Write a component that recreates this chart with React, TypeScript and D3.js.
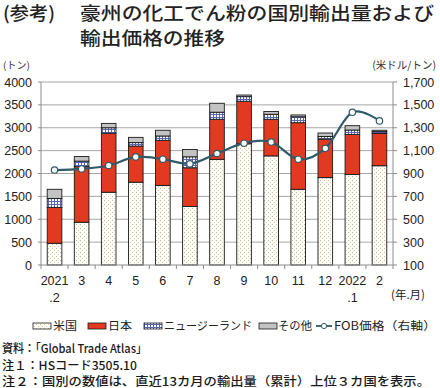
import React from "react";
import * as d3 from "d3";

const catTop = ["2021", "3", "4", "5", "6", "7", "8", "9", "10", "11", "12", "2022", "2"];
const catBottom = [".2", "", "", "", "", "", "", "", "", "", "", ".1", ""];
const usValues = [475, 935, 1590, 1810, 1740, 1280, 2310, 2650, 2385, 1655, 1910, 1980, 2170];
const japanValues = [785, 1215, 1290, 790, 985, 845, 875, 930, 800, 1455, 840, 875, 705];
const nzValues = [195, 120, 120, 75, 95, 240, 155, 100, 110, 130, 60, 95, 40];
const otherValues = [200, 100, 95, 115, 125, 160, 195, 35, 60, 40, 75, 95, 30];
const fobPrice = [930, 940, 970, 1045, 1025, 985, 1075, 1165, 1175, 1025, 1120, 1435, 1360];
const leftTicks = [0, 500, 1000, 1500, 2000, 2500, 3000, 3500, 4000];
const rightTicks = [100, 300, 500, 700, 900, 1100, 1300, 1500, 1700];
const seriesKeys = ["us", "japan", "nz", "other"];
const seriesNames = ["米国", "日本", "ニュージーランド", "その他"];

const W = 440;
const H = 388;
const left = 41;
const right = 393;
const top = 82;
const bottom = 265;

const JP = "'Noto Sans CJK JP', 'Noto Sans', sans-serif";
const NUM = "'Liberation Sans', Arial, sans-serif";

const fills: Record<string, string> = {
  us: "url(#patUS)",
  japan: "#e23a20",
  nz: "url(#patNZ)",
  other: "#c3c3c3",
};

export default function App() {
  const rows = catTop.map((c, i) => ({
    i,
    us: usValues[i],
    japan: japanValues[i],
    nz: nzValues[i],
    other: otherValues[i],
  }));
  const stack = d3.stack<any>().keys(seriesKeys)(rows);
  const x = d3
    .scaleBand<number>()
    .domain(rows.map((r) => r.i))
    .range([left, right])
    .paddingInner(0.46)
    .paddingOuter(0.23);
  const yL = d3.scaleLinear().domain([0, 4000]).range([bottom, top]);
  const yR = d3.scaleLinear().domain([100, 1700]).range([bottom, top]);
  const cx = (i: number) => (x(i) as number) + x.bandwidth() / 2;
  const line = d3
    .line<number>()
    .x((_, i) => cx(i))
    .y((d) => yR(d))
    .curve(d3.curveCatmullRom.alpha(0));
  const step = x.step();
  const lineColor = "#2f5a68";

  const legendItems = [
    { key: "us", x: 33, tx: 53, tw: 24 },
    { key: "japan", x: 88, tx: 108, tw: 24 },
    { key: "nz", x: 144, tx: 164, tw: 88 },
    { key: "other", x: 259, tx: 278, tw: 34 },
  ];
  const ly = 326;

  return (
    <svg
      width={W}
      height={H}
      style={{ position: "absolute", left: 0, top: 0, background: "#fff" }}
    >
      <defs>
        <pattern id="patUS" width="4" height="4" patternUnits="userSpaceOnUse">
          <rect width="4" height="4" fill="#fffdf7" />
          <rect x="0" y="0" width="1" height="1" fill="#cdb894" />
          <rect x="2" y="2" width="1" height="1" fill="#d9c7a6" />
        </pattern>
        <pattern id="patNZ" width="3" height="3" patternUnits="userSpaceOnUse">
          <rect width="3" height="3" fill="#ffffff" />
          <rect x="0" y="0" width="3" height="1" fill="#5a66b0" />
          <rect x="0" y="0" width="1" height="3" fill="#5a66b0" />
        </pattern>
      </defs>

      {/* title */}
      <text x={3} y={20} fontFamily={JP} fontSize={18} fontWeight={500} fill="#222" textLength={52} lengthAdjust="spacingAndGlyphs">
        (参考)
      </text>
      <text x={80} y={20} fontFamily={JP} fontSize={18} fontWeight={500} fill="#222" textLength={354} lengthAdjust="spacingAndGlyphs">
        豪州の化工でん粉の国別輸出量および
      </text>
      <text x={80} y={45} fontFamily={JP} fontSize={18} fontWeight={500} fill="#222" textLength={145} lengthAdjust="spacingAndGlyphs">
        輸出価格の推移
      </text>

      {/* axis unit labels */}
      <text x={3} y={69} fontFamily={JP} fontSize={10} fill="#333">
        (トン)
      </text>
      <text x={436} y={69} fontFamily={JP} fontSize={10.5} fill="#333" textAnchor="end">
        (米ドル/トン)
      </text>

      {/* gridlines */}
      {leftTicks.map((t) => (
        <g key={"g" + t}>
          {t > 0 && (
            <line x1={left} x2={right} y1={yL(t)} y2={yL(t)} stroke="#a6a6a6" strokeWidth={1} />
          )}
          <line x1={left - 3} x2={left} y1={yL(t)} y2={yL(t)} stroke="#8c8c8c" />
          <text x={32} y={yL(t) + 4.5} fontFamily={NUM} fontSize={12.5} fill="#222" textAnchor="end">
            {t}
          </text>
        </g>
      ))}
      {rightTicks.map((t) => (
        <g key={"r" + t}>
          <line x1={right} x2={right + 4} y1={yR(t)} y2={yR(t)} stroke="#8c8c8c" />
          <text x={403} y={yR(t) + 4.5} fontFamily={NUM} fontSize={12.5} fill="#222">
            {d3.format(",")(t)}
          </text>
        </g>
      ))}

      {/* bars */}
      {stack.map((s) =>
        s.map((d, i) => (
          <rect
            key={s.key + i}
            x={x(i)}
            y={yL(d[1])}
            width={x.bandwidth()}
            height={yL(d[0]) - yL(d[1])}
            fill={fills[s.key]}
            stroke="#1a1a1a"
            strokeWidth={0.9}
          />
        ))
      )}

      {/* axes */}
      <line x1={left} x2={left} y1={top} y2={bottom} stroke="#8c8c8c" />
      <line x1={right} x2={right} y1={top} y2={bottom} stroke="#8c8c8c" />
      <line x1={left} x2={right} y1={bottom} y2={bottom} stroke="#8c8c8c" />
      {d3.range(catTop.length + 1).map((k) => (
        <line
          key={"xt" + k}
          x1={left + k * step}
          x2={left + k * step}
          y1={bottom}
          y2={bottom + 4}
          stroke="#8c8c8c"
        />
      ))}
      {catTop.map((c, i) => (
        <g key={"xl" + i}>
          <text x={cx(i)} y={285} fontFamily={NUM} fontSize={12.5} fill="#222" textAnchor="middle">
            {c}
          </text>
          {catBottom[i] && (
            <text x={cx(i)} y={302} fontFamily={NUM} fontSize={12.5} fill="#222" textAnchor="middle">
              {catBottom[i]}
            </text>
          )}
        </g>
      ))}
      <text x={391} y={299} fontFamily={JP} fontSize={11.5} fill="#222" textLength={34} lengthAdjust="spacingAndGlyphs">
        (年.月)
      </text>

      {/* price line */}
      <path d={line(fobPrice) || ""} fill="none" stroke={lineColor} strokeWidth={2.2} />
      {fobPrice.map((p, i) => (
        <circle key={"c" + i} cx={cx(i)} cy={yR(p)} r={3.2} fill="#fff" stroke={lineColor} strokeWidth={1.2} />
      ))}

      {/* legend */}
      {legendItems.map((it, k) => (
        <g key={"lg" + it.key}>
          <rect x={it.x} y={ly - 3} width={18} height={6} fill={fills[it.key]} stroke="#1a1a1a" strokeWidth={0.8} />
          <text x={it.tx} y={ly + 4} fontFamily={JP} fontSize={11.5} fill="#222" textLength={it.tw} lengthAdjust="spacingAndGlyphs">
            {seriesNames[k]}
          </text>
        </g>
      ))}
      <line x1={316} x2={332} y1={ly} y2={ly} stroke={lineColor} strokeWidth={1.8} />
      <circle cx={324} cy={ly} r={2.6} fill="#fff" stroke={lineColor} strokeWidth={1} />
      <text x={334} y={ly + 4} fontFamily={JP} fontSize={11.5} fill="#222" textLength={102} lengthAdjust="spacingAndGlyphs">
        FOB価格（右軸）
      </text>

      {/* notes */}
      <text x={2} y={353} fontFamily={JP} fontSize={12} fontWeight={500} fill="#1a1a1a" textLength={145} lengthAdjust="spacingAndGlyphs">
        資料：「Global Trade Atlas」
      </text>
      <text x={2} y={370} fontFamily={JP} fontSize={12} fontWeight={500} fill="#1a1a1a" textLength={135} lengthAdjust="spacingAndGlyphs">
        注１：HSコード3505.10
      </text>
      <text x={2} y={386} fontFamily={JP} fontSize={12} fontWeight={500} fill="#1a1a1a" textLength={428} lengthAdjust="spacingAndGlyphs">
        注２：国別の数値は、直近13カ月の輸出量（累計）上位３カ国を表示。
      </text>
    </svg>
  );
}
